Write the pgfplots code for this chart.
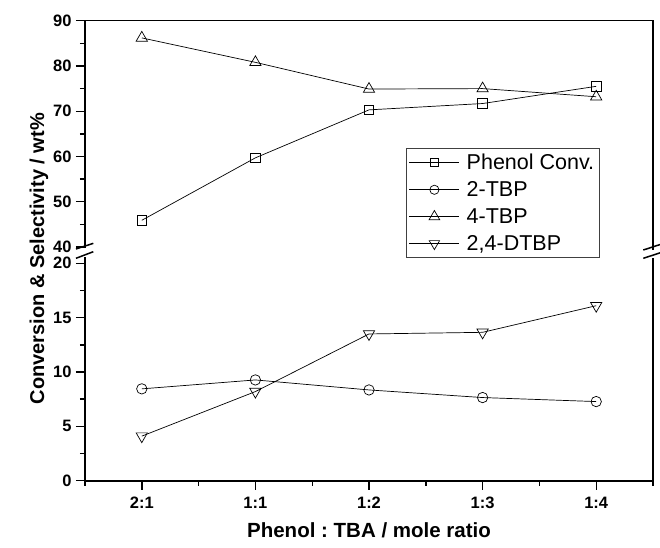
\documentclass[border=0pt]{standalone}
\usepackage{pgfplots}
\pgfplotsset{compat=1.18}
\usepackage{fontspec}
\setmainfont{Liberation Sans}
\frenchspacing
\newcommand{\tickfont}{\fontsize{16.5}{16.5}\selectfont\bfseries}
\begin{document}
\begin{tikzpicture}
\useasboundingbox (-85pt,-66.3pt) rectangle (575pt,480.7pt);
\pgfplotsset{
  common/.style={
    scale only axis, width=568pt,
    xmin=-0.5, xmax=4.5,
    axis line style={draw=none},
    tick align=outside, tick pos=left,
    major tick length=9pt, minor tick length=5pt,
    every tick/.style={black, line width=1.4pt},
    /pgf/number format/assume math mode=true,
    yticklabel={\tickfont\pgfmathprintnumber{\tick}},
    clip=false,
  },
  sq/.style={black, line width=0.7pt, mark=square, mark size=4.8pt, mark options={fill=white, solid, line width=0.7pt}},
  ci/.style={black, line width=0.7pt, mark=o, mark size=5.2pt, mark options={fill=white, solid, line width=0.7pt}},
  tu/.style={black, line width=0.7pt, mark=triangle, mark size=6.5pt, mark options={fill=white, solid, line width=0.7pt}},
  td/.style={black, line width=0.7pt, mark=triangle, mark size=6.5pt, mark options={fill=white, solid, line width=0.7pt, rotate=180}},
}
% lower axis
\begin{axis}[common, name=lower, at={(0pt,0pt)}, anchor=south west,
  height=217.4pt, ymin=0, ymax=20,
  ytick={0,5,10,15,20}, minor ytick={2.5,7.5,12.5,17.5},
  xtick={0,1,2,3,4},
  xticklabels={{\tickfont 2:1},{\tickfont 1:1},{\tickfont 1:2},{\tickfont 1:3},{\tickfont 1:4}},
  minor xtick={-0.5,0.5,1.5,2.5,3.5,4.5},
  yticklabel style={xshift=-1pt},
  xticklabel style={yshift=-4pt},
]
\addplot[ci] coordinates {(0,8.45) (1,9.27) (2,8.35) (3,7.65) (4,7.28)};
\addplot[td] coordinates {(0,4.1) (1,8.2) (2,13.5) (3,13.65) (4,16.1)};
\end{axis}
% upper axis
\begin{axis}[common, name=upper, at={(0pt,233.7pt)}, anchor=south west,
  height=226.3pt, ymin=40, ymax=90,
  ytick={40,50,60,70,80,90}, minor ytick={45,55,65,75,85},
  xtick=\empty,
  yticklabel style={xshift=-1pt},
  legend cell align=left,
  legend image code/.code={\draw[mark repeat=2,mark phase=2] plot coordinates {(0pt,0pt) (25pt,0pt) (50pt,0pt)};},
  legend style={at={(rel axis cs:0.5646,0.437)}, anchor=north west,
    draw=black!75, line width=0.7pt, fill=white,
    font=\fontsize{21.5}{22}\selectfont,
    inner xsep=3pt, inner ysep=3.5pt, row sep=6.5pt,
    /tikz/every odd column/.append style={column sep=5pt}},
]
\addplot[sq, forget plot] coordinates {(0,45.9) (1,59.7) (2,70.3) (3,71.7) (4,75.5)};
\addplot[tu, forget plot] coordinates {(0,86.2) (1,80.8) (2,74.9) (3,75.0) (4,73.2)};
\addlegendimage{sq, mark size=3.7pt}
\addlegendentry{Phenol Conv.}
\addlegendimage{ci, mark size=4.6pt}
\addlegendentry{2-TBP}
\addlegendimage{tu, mark size=6.2pt}
\addlegendentry{4-TBP}
\addlegendimage{td, mark size=6pt}
\addlegendentry{2,4-DTBP}
\end{axis}
% frame lines
\draw[line width=2pt] (0pt,223.7pt) -- (0pt,0pt) -- (568pt,0pt);
\draw[line width=1.5pt] (568pt,0pt) -- (568pt,222.7pt);
\draw[line width=2pt] (0pt,232.5pt) -- (0pt,460pt);
\draw[line width=1.5pt] (0pt,460pt) -- (568pt,460pt) -- (568pt,230.7pt);
% break marks
\draw[line width=1.5pt] (-9pt,231.7pt) -- (8.3pt,237.4pt);
\draw[line width=1.5pt] (-9pt,222.4pt) -- (8.3pt,229pt);
\draw[line width=1.5pt] (558.3pt,230.7pt) -- (576.7pt,236.7pt);
\draw[line width=1.5pt] (558.3pt,222.4pt) -- (576.7pt,228.4pt);
% axis labels
\node[rotate=90, font=\fontsize{20}{20}\selectfont\bfseries] at (-46pt,222pt) {Conversion \& Selectivity / wt\%};
\node[anchor=base, font=\fontsize{20.5}{20.5}\selectfont\bfseries] at (284pt,-56.3pt) {Phenol : TBA / mole ratio};
\end{tikzpicture}
\end{document}
